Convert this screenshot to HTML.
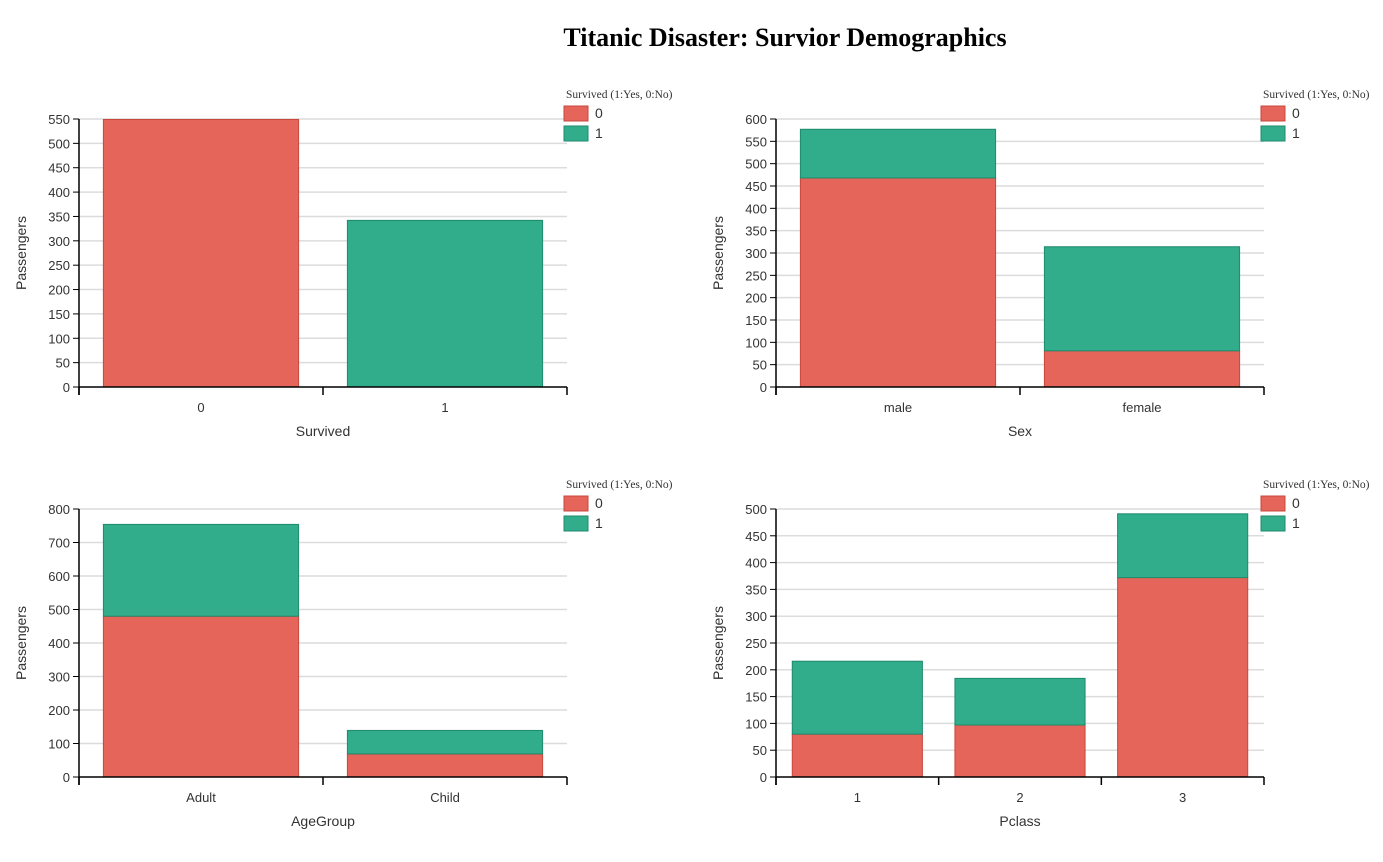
<!DOCTYPE html>
<html><head><meta charset="utf-8"><style>
body{margin:0;background:#fff;}
svg{display:block;font-family:"Liberation Sans",sans-serif;}
</style></head><body>
<svg id="c" width="1383" height="862">
<text x="785" y="46" text-anchor="middle" font-family="Liberation Serif" font-weight="bold" font-size="26">Titanic Disaster: Survior Demographics</text>
</svg>
<script>
const survivedCats = ["0","1"];
const survivedDied = [549, 0];
const survivedLived = [0, 342];
const sexCats = ["male","female"];
const sexDied = [468, 81];
const sexLived = [109, 233];
const ageCats = ["Adult","Child"];
const ageDied = [480, 69];
const ageLived = [274, 70];
const classCats = ["1","2","3"];
const classDied = [80, 97, 372];
const classLived = [136, 87, 119];
const yTicksA = [0,50,100,150,200,250,300,350,400,450,500,550];
const yTicksB = [0,50,100,150,200,250,300,350,400,450,500,550,600];
const yTicksC = [0,100,200,300,400,500,600,700,800];
const yTicksD = [0,50,100,150,200,250,300,350,400,450,500];

const NS="http://www.w3.org/2000/svg";
const svg=document.getElementById('c');
function mk(tag,attrs,parent){const e=document.createElementNS(NS,tag);for(const k in attrs)e.setAttribute(k,attrs[k]);(parent||svg).appendChild(e);return e;}
const RED="#e5655a", GREEN="#31ad8c";

function chart(name,x0,x1,yb,yt,cats,died,lived,ticks,xlabel){
  const g=mk('g',{});
  
  
  const ymax=ticks[ticks.length-1];
  const ys=v=>yb-(v/ymax)*(yb-yt);
  const bw=(x1-x0)/cats.length;
  ticks.forEach(t=>{
    const y=ys(t);
    if(t>0){const gl=mk('line',{x1:x0,x2:x1,y1:y,y2:y,stroke:'#dcdcdc','stroke-width':1.5},g);
    
    }
    mk('line',{x1:x0-6,x2:x0,y1:y,y2:y,stroke:'#000'},g);
    const tl=mk('text',{x:x0-9,y:y+5,'text-anchor':'end','font-size':13,fill:'#333'},g);
    tl.textContent=t;
    
    
  });
  cats.forEach((c,i)=>{
    const bx=x0+i*bw+bw*0.1, w=bw*0.8;
    const yd=ys(died[i]), yl=ys(died[i]+lived[i]);
    if(died[i]>0){const r=mk('rect',{x:bx,y:yd,width:w,height:yb-yd,fill:RED,stroke:'#c9473c','stroke-width':1},g);
    
    }
    if(lived[i]>0){const r=mk('rect',{x:bx,y:yl,width:w,height:yd-yl,fill:GREEN,stroke:'#1e8a6c','stroke-width':1},g);
    
    }
    const xl=mk('text',{x:x0+(i+0.5)*bw,y:yb+25,'text-anchor':'middle','font-size':13,fill:'#333'},g);
    xl.textContent=c;
    
    
  });
  for(let i=0;i<=cats.length;i++){const xx=x0+i*bw;mk('line',{x1:xx,x2:xx,y1:yb,y2:yb+8,stroke:'#000','stroke-width':1.5},g);}
  mk('line',{x1:x0,x2:x1,y1:yb,y2:yb,stroke:'#000','stroke-width':1.5},g);
  mk('line',{x1:x0,x2:x0,y1:yt,y2:yb+8,stroke:'#000','stroke-width':1.5},g);
  const xt=mk('text',{x:(x0+x1)/2,y:yb+49,'text-anchor':'middle','font-size':14,fill:'#333'},g);
  xt.textContent=xlabel;
  
  
  const yt2=mk('text',{x:0,y:0,'text-anchor':'middle','font-size':14,fill:'#333',transform:`translate(${x0-53},${(yb+yt)/2}) rotate(-90)`},g);
  yt2.textContent='Passengers';
  
  
  const lx=x1-3, ly=yt-13;
  const lt=mk('text',{x:lx+2,y:ly-8,'font-size':11.5,'font-family':'Liberation Serif',fill:'#333'},g);
  lt.textContent='Survived (1:Yes, 0:No)';
  
  
  [[RED,'#c9473c','0'],[GREEN,'#1e8a6c','1']].forEach((d,k)=>{
    const r=mk('rect',{x:lx,y:ly+k*20,width:24,height:15,fill:d[0],stroke:d[1]},g);
    
    
    const t=mk('text',{x:lx+31,y:ly+k*20+12,'font-size':14,fill:'#333'},g);
    t.textContent=d[2];
    
    
  });
}
chart('survived-chart',79,567,387,119,survivedCats,survivedDied,survivedLived,yTicksA,'Survived');
chart('sex-chart',776,1264,387,119,sexCats,sexDied,sexLived,yTicksB,'Sex');
chart('agegroup-chart',79,567,777,509,ageCats,ageDied,ageLived,yTicksC,'AgeGroup');
chart('pclass-chart',776,1264,777,509,classCats,classDied,classLived,yTicksD,'Pclass');
</script>
</body></html>
